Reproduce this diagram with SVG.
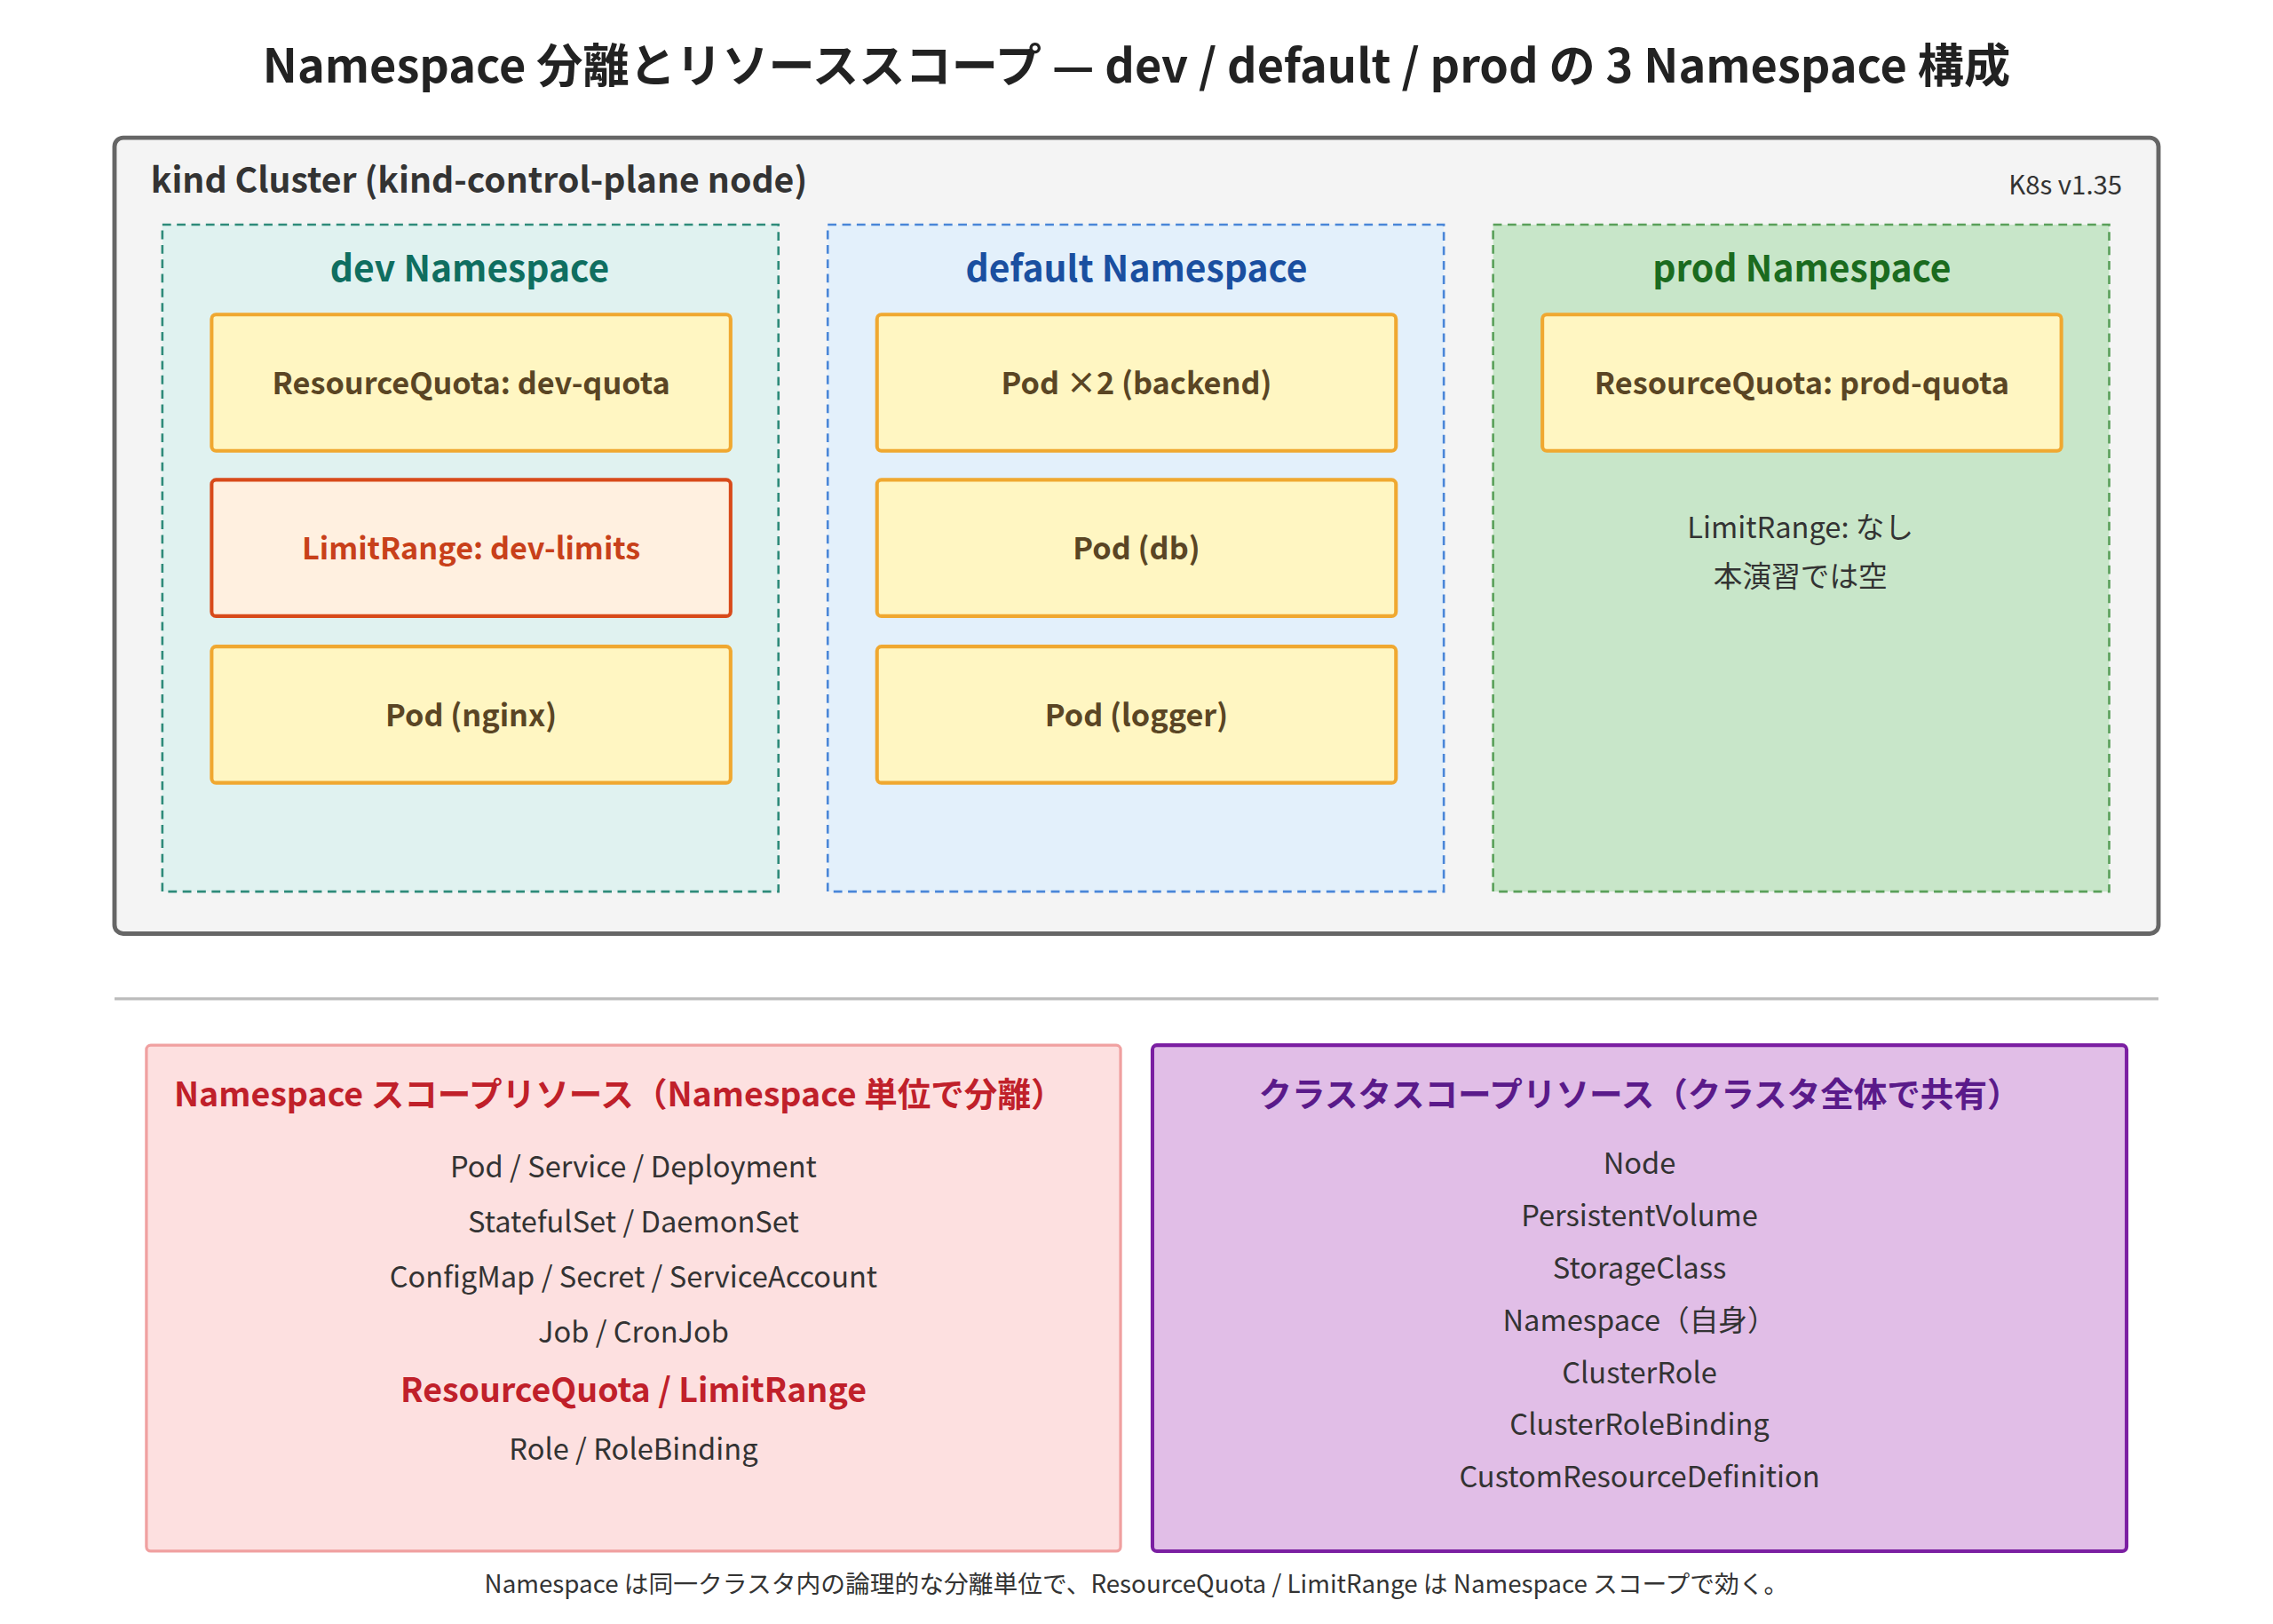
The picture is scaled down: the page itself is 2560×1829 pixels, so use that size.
<svg xmlns="http://www.w3.org/2000/svg" width="2560" height="1829" viewBox="0 0 2560 1829">
<style>
text{font-family:"Noto Sans CJK JP","Noto Sans",sans-serif}
.box{fill:#fff6c2;stroke:#f0a830;stroke-width:2.5}
.bt{font-size:21px;font-weight:700;fill:#5a4524;text-anchor:middle}
.ns{stroke-width:1.6;stroke-dasharray:6 4}
.nt{font-size:25px;font-weight:700;text-anchor:middle}
.it{font-size:20px;fill:#333;text-anchor:middle}
</style>
<rect width="2560" height="1829" fill="#fff"/>
<g transform="scale(1.63265)">
<text x="784" y="57" text-anchor="middle" font-size="32" font-weight="700" fill="#222">Namespace 分離とリソーススコープ — dev / default / prod の 3 Namespace 構成</text>
<g id="cluster">
<rect x="79" y="95" width="1410" height="549" rx="6" fill="#f4f4f4" stroke="#666" stroke-width="3"/>
<text x="104" y="133" font-size="24" font-weight="600" fill="#333">kind Cluster (kind-control-plane node)</text>
<text x="1464" y="134" font-size="18" fill="#333" text-anchor="end">K8s v1.35</text>
</g>
<g id="dev">
<rect class="ns" x="112" y="155" width="425" height="460" fill="#e0f2f0" stroke="#2e8b7a"/>
<text class="nt" x="324" y="194" fill="#0f6e60">dev Namespace</text>
</g>
<g id="dev-quota"><rect class="box" x="146" y="217" width="358" height="94" rx="3"/><text class="bt" x="325" y="272">ResourceQuota: dev-quota</text></g>
<g id="dev-limits"><rect x="146" y="331" width="358" height="94" rx="3" fill="#fff0e0" stroke="#d84a1a" stroke-width="2.5"/><text class="bt" x="325" y="386" fill="#c8401a" style="fill:#c8401a">LimitRange: dev-limits</text></g>
<g id="pod-nginx"><rect class="box" x="146" y="446" width="358" height="94" rx="3"/><text class="bt" x="325" y="501">Pod (nginx)</text></g>
<g id="default">
<rect class="ns" x="571" y="155" width="425" height="460" fill="#e3f0fb" stroke="#4a86d8"/>
<text class="nt" x="784" y="194" fill="#1a4fa0">default Namespace</text>
</g>
<g id="pod-backend"><rect class="box" x="605" y="217" width="358" height="94" rx="3"/><text class="bt" x="784" y="272">Pod ×2 (backend)</text></g>
<g id="pod-db"><rect class="box" x="605" y="331" width="358" height="94" rx="3"/><text class="bt" x="784" y="386">Pod (db)</text></g>
<g id="pod-logger"><rect class="box" x="605" y="446" width="358" height="94" rx="3"/><text class="bt" x="784" y="501">Pod (logger)</text></g>
<g id="prod">
<rect class="ns" x="1030" y="155" width="425" height="460" fill="#c8e6c9" stroke="#5aa05a"/>
<text class="nt" x="1243" y="194" fill="#1b6b1f">prod Namespace</text>
<text class="it" x="1242" y="371">LimitRange: なし</text>
<text class="it" x="1242" y="405">本演習では空</text>
</g>
<g id="prod-quota"><rect class="box" x="1064" y="217" width="358" height="94" rx="3"/><text class="bt" x="1243" y="272">ResourceQuota: prod-quota</text></g>
<g id="connectors"></g>
<line x1="79" y1="689" x2="1489" y2="689" stroke="#bbb" stroke-width="2"/>
<g id="ns-scope">
<rect x="101" y="721" width="672" height="349" rx="3" fill="#fde0e0" stroke="#f0a0a0" stroke-width="2"/>
<text x="120" y="763" font-size="23" font-weight="700" fill="#c0202a">Namespace スコープリソース（Namespace 単位で分離）</text>
<text class="it" x="437" y="812">Pod / Service / Deployment</text>
<text class="it" x="437" y="850">StatefulSet / DaemonSet</text>
<text class="it" x="437" y="888">ConfigMap / Secret / ServiceAccount</text>
<text class="it" x="437" y="926">Job / CronJob</text>
<text x="437" y="967" font-size="23" font-weight="700" fill="#c0202a" text-anchor="middle">ResourceQuota / LimitRange</text>
<text class="it" x="437" y="1007">Role / RoleBinding</text>
</g>
<g id="cluster-scope">
<rect x="795" y="721" width="672" height="349" rx="3" fill="#e1bee7" stroke="#7b1fa2" stroke-width="2.5"/>
<text x="1131" y="763" font-size="23" font-weight="700" fill="#5a1a8a" text-anchor="middle">クラスタスコープリソース（クラスタ全体で共有）</text>
<text class="it" x="1131" y="810">Node</text>
<text class="it" x="1131" y="846">PersistentVolume</text>
<text class="it" x="1131" y="882">StorageClass</text>
<text class="it" x="1131" y="918">Namespace（自身）</text>
<text class="it" x="1131" y="954">ClusterRole</text>
<text class="it" x="1131" y="990">ClusterRoleBinding</text>
<text class="it" x="1131" y="1026">CustomResourceDefinition</text>
</g>
<text x="784" y="1099" font-size="17" fill="#333" text-anchor="middle">Namespace は同一クラスタ内の論理的な分離単位で、ResourceQuota / LimitRange は Namespace スコープで効く。</text>
</g>
</svg>
